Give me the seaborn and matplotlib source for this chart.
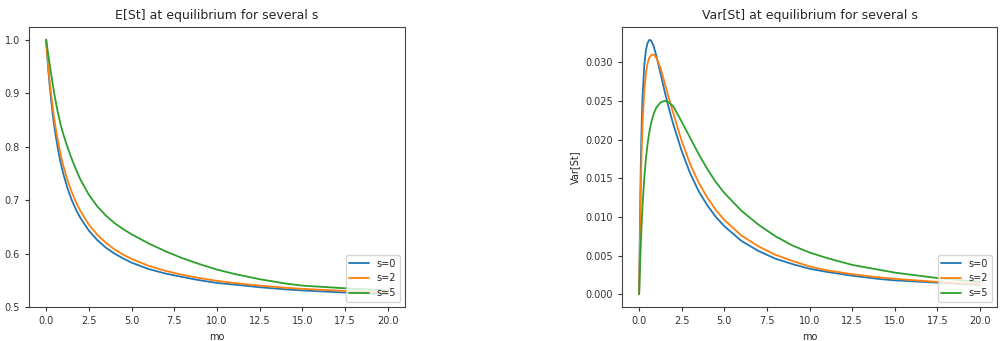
import pandas as pd
import seaborn as sns
import matplotlib
matplotlib.use("Agg")
import matplotlib.pyplot as plt

# values
mo = [0, 0.05, 0.1, 0.15, 0.2, 0.3, 0.4, 0.5, 0.6, 0.7, 0.85, 1.0, 1.25, 1.5,
      1.75, 2.0, 2.5, 3.0, 3.5, 4.0, 4.5, 5.0, 6.0, 7.0, 8.0, 9.0, 10, 11,
      12.5, 14, 15, 17.5, 20]
s_labels = ["s=0", "s=2", "s=5"]

mean_s0 = [1.0, 0.976, 0.955, 0.935, 0.917, 0.885, 0.857, 0.833, 0.813, 0.794,
           0.770, 0.750, 0.722, 0.700, 0.682, 0.667, 0.643, 0.625, 0.611, 0.600,
           0.591, 0.583, 0.571, 0.5625, 0.556, 0.550, 0.545, 0.542, 0.537, 0.533,
           0.531, 0.527, 0.524]
mean_s2 = [1.0, 0.978, 0.959, 0.941, 0.925, 0.896, 0.870, 0.846, 0.827, 0.809,
           0.785, 0.765, 0.737, 0.715, 0.696, 0.680, 0.654, 0.635, 0.620, 0.608,
           0.598, 0.590, 0.577, 0.5675, 0.560, 0.554, 0.549, 0.545, 0.540, 0.536,
           0.534, 0.530, 0.527]
mean_s5 = [1.0, 0.989, 0.978, 0.967, 0.956, 0.935, 0.914, 0.895, 0.878, 0.862,
           0.841, 0.824, 0.799, 0.777, 0.757, 0.739, 0.710, 0.688, 0.671, 0.657,
           0.646, 0.636, 0.619, 0.604, 0.591, 0.580, 0.570, 0.562, 0.552, 0.544,
           0.540, 0.535, 0.531]

var_s0 = [0.0, 0.0095, 0.0170, 0.0220, 0.0255, 0.0295, 0.0316, 0.0325, 0.0329,
          0.0328, 0.0321, 0.0309, 0.0286, 0.0262, 0.0240, 0.0220, 0.0185, 0.0156,
          0.0133, 0.0115, 0.0100, 0.0088, 0.0069, 0.0056, 0.0046, 0.0039, 0.0033,
          0.0029, 0.0024, 0.0020, 0.0018, 0.0015, 0.0012]
var_s2 = [0.0, 0.0075, 0.0140, 0.0185, 0.0220, 0.0262, 0.0286, 0.0299, 0.0306,
          0.0309, 0.0310, 0.0306, 0.0293, 0.0273, 0.0253, 0.0234, 0.0198, 0.0168,
          0.0144, 0.0125, 0.0109, 0.0096, 0.0076, 0.0062, 0.0051, 0.0043, 0.0036,
          0.0031, 0.0026, 0.0022, 0.0020, 0.0016, 0.0013]
var_s5 = [0.0, 0.0035, 0.0065, 0.0092, 0.0115, 0.0150, 0.0176, 0.0195, 0.0210,
          0.0221, 0.0233, 0.0241, 0.0248, 0.0250, 0.0248, 0.0243, 0.0223, 0.0202,
          0.0181, 0.0162, 0.0145, 0.0131, 0.0108, 0.0090, 0.0075, 0.0063, 0.0054,
          0.0047, 0.0038, 0.0032, 0.0028, 0.0021, 0.0016]

xticks = [0, 2.5, 5, 7.5, 10, 12.5, 15, 17.5, 20]


def long_df(series):
    rows = []
    for lab, vals in zip(s_labels, series):
        for x, y in zip(mo, vals):
            rows.append({"mo": x, "val": y, "s": lab})
    return pd.DataFrame(rows)


sns.set_style("ticks")
plt.rcParams["font.family"] = ["DejaVu Sans"]
plt.rc("font", size=7)
plt.rc("axes", titlesize=9, labelsize=7, edgecolor="#444444", linewidth=0.8)
plt.rc("xtick", labelsize=7, direction="out")
plt.rc("ytick", labelsize=7, direction="out")
plt.rc("legend", fontsize=7)

fig = plt.figure(figsize=(10.05, 3.41), dpi=100)
ax1 = fig.add_axes([0.0289, 0.0997, 0.374, 0.821])
ax2 = fig.add_axes([0.619, 0.0997, 0.373, 0.821])
pal = sns.color_palette("tab10", 3)

sns.lineplot(data=long_df([mean_s0, mean_s2, mean_s5]), x="mo", y="val", hue="s",
             palette=pal, linewidth=1.3, errorbar=None, ax=ax1)
ax1.set_title("E[St] at equilibrium for several s")
ax1.set_xlabel("mo")
ax1.set_ylabel("E[St]")
ax1.set_xticks(xticks)
ax1.set_ylim(bottom=0.5)
ax1.legend(loc="lower right")

sns.lineplot(data=long_df([var_s0, var_s2, var_s5]), x="mo", y="val", hue="s",
             palette=pal, linewidth=1.3, errorbar=None, ax=ax2)
ax2.set_title("Var[St] at equilibrium for several s")
ax2.set_xlabel("mo")
ax2.set_ylabel("Var[St]")
ax2.set_xticks(xticks)
ax2.legend(loc="lower right")

for ax in (ax1, ax2):
    ax.tick_params(length=3, width=0.8, colors="#333333")
    for sp in ax.spines.values():
        sp.set_visible(True)

fig.savefig("out.png", dpi=100)
